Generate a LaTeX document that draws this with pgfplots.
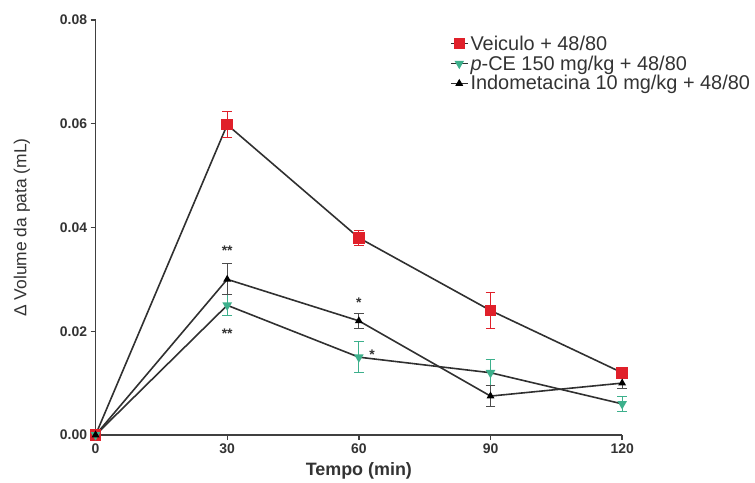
\documentclass[border=0pt]{standalone}
\usepackage{pgfplots}
\pgfplotsset{compat=1.18}
\usepackage{fontspec}
\setmainfont{Liberation Sans}
\definecolor{cred}{HTML}{E0202A}
\definecolor{cgreen}{HTML}{3DB08C}
\definecolor{cline}{HTML}{303030}

\begin{document}
\begin{tikzpicture}
\begin{axis}[
  scale only axis, width=529pt, height=417pt,
  xmin=0, xmax=120, ymin=0, ymax=0.08,
  xtick={0,30,60,90,120}, ytick={0,0.02,0.04,0.06,0.08},
  scaled y ticks=false,
  axis x line=bottom, axis y line=left,
  axis line style={-, line width=1.8pt, black!75},
  tick align=outside, major tick length=5pt,
  tick style={line width=1.4pt, black!75},
  yticklabel style={/pgf/number format/fixed, /pgf/number format/fixed zerofill,
    /pgf/number format/precision=2},
  /pgf/number format/assume math mode=true,
  ticklabel style={font=\fontsize{14}{16}\selectfont\bfseries, text=black!80},
  xlabel={\textbf{Tempo (min)}}, ylabel={Δ Volume da pata (mL)},
  xlabel style={font=\fontsize{18}{20}\selectfont, text=black!80,
    at={(axis description cs:0.5,0)}, anchor=center, yshift=-36pt},
  ylabel style={font=\fontsize{17.5}{20}\selectfont, text=black!80,
    at={(axis description cs:0,0.5)}, anchor=center, yshift=74pt},
  clip=false,
  legend style={at={(0.667,0.972)}, anchor=north west, draw=none, fill=none,
    font=\fontsize{20}{22.5}\selectfont, text=black!80, row sep=0pt},
  legend cell align=left,
  error bars/y dir=both, error bars/y explicit,
  error bars/error mark options={rotate=90, mark size=5pt, line width=1pt},
]
\addplot[cline, line width=1.6pt, mark=square*, mark size=5pt,
  mark options={fill=cred, draw=cred},
  error bars/error bar style={cred, line width=1pt}]
  coordinates {(0,0) +- (0,0) (30,0.0598) +- (0,0.0025) (60,0.038) +- (0,0.0015)
               (90,0.024) +- (0,0.0035) (120,0.012) +- (0,0.001)};
\addplot[cline, line width=1.6pt, mark=triangle*, mark size=4pt,
  mark options={fill=cgreen, draw=cgreen, rotate=180},
  error bars/error bar style={cgreen, line width=1pt}]
  coordinates {(0,0) +- (0,0) (30,0.025) +- (0,0.002) (60,0.015) +- (0,0.003)
               (90,0.012) +- (0,0.0025) (120,0.006) +- (0,0.0015)};
\addplot[cline, line width=1.6pt, mark=triangle*, mark size=3pt,
  mark options={fill=black, draw=black},
  error bars/error bar style={black!70, line width=1pt}]
  coordinates {(0,0) +- (0,0) (30,0.030) +- (0,0.003) (60,0.022) +- (0,0.0015)
               (90,0.0075) +- (0,0.002) (120,0.010) +- (0,0.001)};
\legend{Veiculo + 48/80, \textit{p}-CE 150 mg/kg + 48/80, Indometacina 10 mg/kg + 48/80}
\node[font=\fontsize{14}{15}\selectfont\bfseries, text=black!80] at (axis cs:30,0.0355) {**};
\node[font=\fontsize{14}{15}\selectfont\bfseries, text=black!80] at (axis cs:30,0.0195) {**};
\node[font=\fontsize{14}{15}\selectfont\bfseries, text=black!80] at (axis cs:60,0.0255) {*};
\node[font=\fontsize{14}{15}\selectfont\bfseries, text=black!80] at (axis cs:63,0.0155) {*};
\path (rel axis cs:0,0) ++(-96pt,-47pt) coordinate (bl);
\path (rel axis cs:1,1) ++(128pt,20pt) coordinate (tr);
\end{axis}
\end{tikzpicture}
\end{document}
